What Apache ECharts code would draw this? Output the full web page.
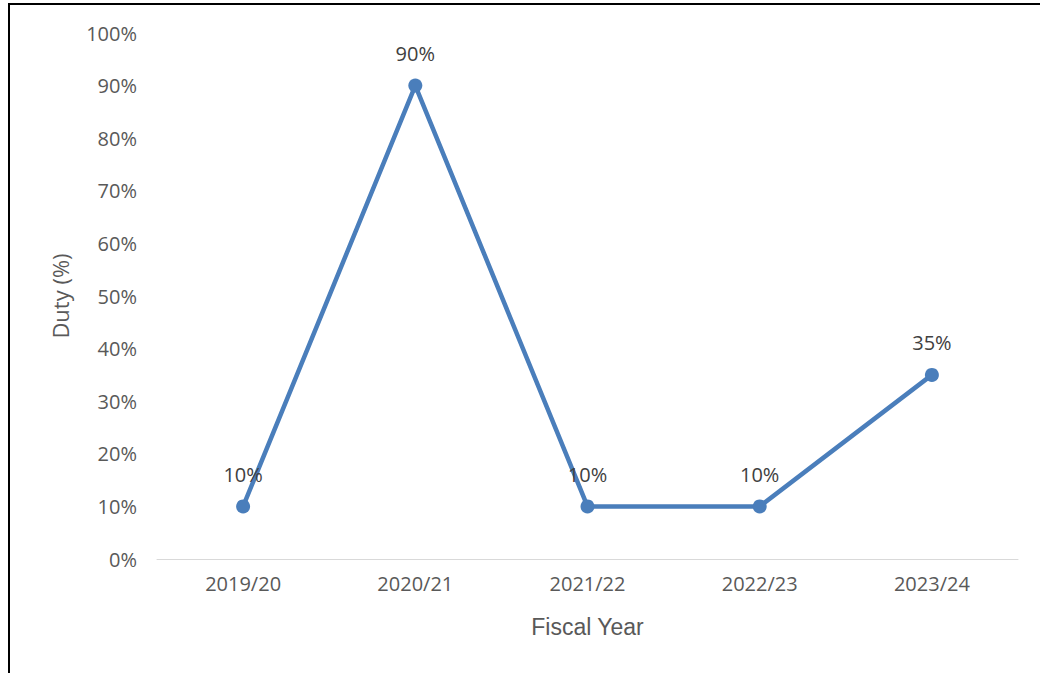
<!DOCTYPE html>
<html>
<head>
<meta charset="utf-8">
<script src="https://cdn.jsdelivr.net/npm/echarts@6/dist/echarts.min.js"></script>
<style>
  html, body {margin: 0; padding: 0; background: #fff;}
  #frame {position: absolute; left: 8px; top: 3px; width: 1040px; height: 680px;
    border-left: 2px solid #000; border-top: 2px solid #000; box-sizing: border-box;}
  #chart {width: 1040px; height: 673px;}
</style>
</head>
<body>
<div id="frame"></div>
<div id="chart"></div>
<script>
const years = ['2019/20', '2020/21', '2021/22', '2022/23', '2023/24']
const duty = [10, 90, 10, 10, 35]
const yTicks = {min: 0, max: 100, interval: 10}

const chartObj = echarts.init(document.getElementById('chart'), null, {renderer: 'svg'})
const font = 'Open Sans, sans-serif'

chartObj.setOption({
  animation: false,
  grid: {left: 157, right: 22, top: 33, bottom: 114},
  xAxis: {
    type: 'category',
    data: years,
    name: 'Fiscal Year',
    nameLocation: 'middle',
    nameGap: 56,
    nameTextStyle: {fontSize: 23, color: '#595959', fontFamily: 'Liberation Sans, Arial, sans-serif'},
    axisLine: {lineStyle: {color: '#d9d9d9', width: 1}},
    axisTick: {show: false},
    axisLabel: {fontSize: 20, color: '#595959', fontFamily: font, margin: 14}
  },
  yAxis: {
    type: 'value',
    min: yTicks.min,
    max: yTicks.max,
    interval: yTicks.interval,
    name: 'Duty (%)',
    nameLocation: 'middle',
    nameGap: 86,
    nameTextStyle: {fontSize: 22, color: '#595959', fontFamily: font},
    splitLine: {show: false},
    axisLine: {show: false},
    axisTick: {show: false},
    axisLabel: {fontSize: 20, color: '#595959', fontFamily: font, margin: 20,
      formatter: v => v + '%'}
  },
  series: [{
    type: 'line',
    data: duty,
    symbol: 'circle',
    symbolSize: 14,
    lineStyle: {color: '#4a7ebb', width: 4.5},
    itemStyle: {color: '#4a7ebb'},
    label: {show: true, position: 'top', distance: 15, fontSize: 20,
      color: '#404040', fontFamily: font, formatter: p => p.value + '%'}
  }]
})
</script>
</body>
</html>
